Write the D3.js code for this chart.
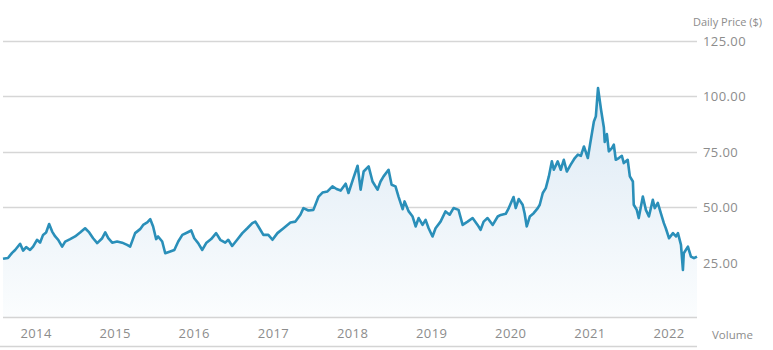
<!DOCTYPE html>
<html>
<head>
<meta charset="utf-8">
<script src="https://cdn.jsdelivr.net/npm/d3@7"></script>
<style>
  html, body { margin: 0; padding: 0; background: #fff; }
  svg { display: block; font-family: "Open Sans", "DejaVu Sans", sans-serif; }
</style>
</head>
<body>
<svg id="chart" width="773" height="350"></svg>
<script>
// Daily closing price samples (USD)
const dates = [
  "2013-08-01","2013-08-24","2013-09-12","2013-09-26","2013-10-19","2013-11-02","2013-11-16","2013-12-04","2013-12-18",
  "2014-01-05","2014-01-19","2014-02-02","2014-02-16","2014-03-02","2014-03-16","2014-03-30","2014-04-13","2014-05-01",
  "2014-05-15","2014-06-07","2014-06-30","2014-07-23","2014-08-15","2014-09-03","2014-09-21","2014-10-10","2014-11-02",
  "2014-11-16","2014-11-30","2014-12-18",
  "2015-01-10","2015-02-02","2015-02-25","2015-03-11","2015-04-03","2015-04-26","2015-05-10","2015-05-29","2015-06-12",
  "2015-06-25","2015-07-09","2015-07-18","2015-08-06","2015-08-20","2015-09-12","2015-10-01","2015-10-19","2015-11-07",
  "2015-11-30","2015-12-18",
  "2016-01-01","2016-01-19","2016-02-07","2016-02-25","2016-03-19","2016-04-11","2016-04-30","2016-05-23","2016-06-06",
  "2016-06-24","2016-07-17","2016-08-10","2016-09-02","2016-09-25","2016-10-09","2016-10-23","2016-11-15","2016-12-08",
  "2016-12-27",
  "2017-01-19","2017-02-16","2017-03-20","2017-04-12","2017-05-05","2017-05-19","2017-06-11","2017-07-04","2017-07-28",
  "2017-08-15","2017-09-07","2017-09-30","2017-10-19","2017-11-07","2017-11-30","2017-12-13",
  "2018-01-05","2018-01-24","2018-02-07","2018-02-21","2018-03-16","2018-04-03","2018-04-26","2018-05-10","2018-05-24",
  "2018-06-16","2018-06-30","2018-07-18","2018-08-01","2018-08-20","2018-08-29","2018-09-17","2018-10-05","2018-10-19",
  "2018-11-02","2018-11-20","2018-12-04","2018-12-18",
  "2019-01-05","2019-01-19","2019-02-11","2019-03-06","2019-03-25","2019-04-12","2019-05-05","2019-05-24","2019-06-16",
  "2019-07-09","2019-08-01","2019-08-15","2019-08-29","2019-09-16","2019-10-10","2019-11-02","2019-11-16","2019-12-09",
  "2019-12-23",
  "2020-01-14","2020-01-24","2020-02-07","2020-02-25","2020-03-05","2020-03-15","2020-03-29","2020-04-16","2020-05-05",
  "2020-05-14","2020-05-28","2020-06-11","2020-06-25","2020-07-09","2020-07-18","2020-08-05","2020-08-19","2020-09-02",
  "2020-09-16","2020-10-04","2020-10-23","2020-11-06","2020-11-20","2020-12-04","2020-12-22",
  "2021-01-01","2021-01-19","2021-01-28","2021-02-07","2021-02-21","2021-03-06","2021-03-10","2021-03-20","2021-03-29",
  "2021-04-12","2021-04-21","2021-04-30","2021-05-14","2021-05-28","2021-06-06","2021-06-24","2021-07-04","2021-07-18",
  "2021-07-22","2021-08-05","2021-08-14","2021-09-02","2021-09-16","2021-09-30","2021-10-18","2021-10-27","2021-11-10",
  "2021-11-24","2021-12-08","2021-12-17",
  "2022-01-01","2022-01-19","2022-02-02","2022-02-11","2022-02-25","2022-03-06","2022-03-10","2022-03-29","2022-04-12",
  "2022-04-26","2022-05-10"
];
const prices = [
  26.7,27.1,29.4,30.7,33.5,30.4,32.0,30.7,32.2,
  35.3,34.0,37.5,38.6,42.4,39.0,36.8,35.3,32.2,
  34.5,35.6,36.8,38.6,40.5,38.6,36.0,33.8,36.0,
  38.6,36.0,34.0,
  34.5,34.0,33.0,32.2,38.3,40.1,42.0,43.1,44.6,
  41.3,35.6,36.8,34.5,29.2,30.0,30.7,34.5,37.5,
  38.6,39.5,
  36.0,33.8,30.7,33.8,35.6,38.3,35.3,34.0,35.3,
  32.5,35.3,38.3,40.5,42.8,43.5,41.3,37.5,37.5,
  35.3,
  38.3,40.5,43.1,43.5,46.6,49.6,48.5,48.8,54.8,
  56.6,57.1,59.4,58.2,57.5,60.6,56.4,
  63.2,68.7,57.9,66.1,68.4,61.6,57.9,61.6,63.9,
  66.9,60.1,59.4,54.8,49.1,52.6,48.1,45.8,41.3,
  45.1,42.0,44.3,40.5,
  36.8,40.5,43.5,48.1,46.6,49.6,48.8,42.0,43.5,
  45.1,42.0,39.8,43.5,45.1,42.0,45.8,46.5,47.0,
  49.6,
  54.6,49.6,53.7,51.1,47.3,41.3,45.8,47.3,49.6,
  51.1,56.4,58.6,63.9,70.7,66.9,70.7,66.9,71.4,
  66.1,69.2,72.2,73.7,73.2,77.4,72.2,
  78.2,88.7,91.0,103.8,94.0,86.0,79.5,83.0,75.2,
  76.7,78.2,71.4,72.2,73.2,69.9,71.4,63.9,61.6,
  51.1,48.8,45.1,54.8,48.8,45.8,53.3,49.6,51.9,
  47.3,42.8,40.5,
  36.0,38.3,36.8,38.3,33.0,21.7,29.2,32.2,27.7,
  27.0,27.7
];
const priceTicks = [25, 50, 75, 100, 125];
const yearTicks = ["2014","2015","2016","2017","2018","2019","2020","2021","2022"];
const priceTitle = "Daily Price ($)";
const volumeTitle = "Volume";

const parse = d3.timeParse("%Y-%m-%d");
const series = dates.map((d, i) => ({ date: parse(d), value: prices[i] }));

const svg = d3.select("#chart");
const plot = { left: 3, right: 697, top: 41, bottom: 318 };

const x = d3.scaleTime()
  .domain(d3.extent(series, d => d.date))
  .range([plot.left, plot.right]);
const y = d3.scaleLinear()
  .domain([0, 125])
  .range([plot.bottom, plot.top]);

// gradient under the price line
const defs = svg.append("defs");
const grad = defs.append("linearGradient")
  .attr("id", "areaFill")
  .attr("gradientUnits", "userSpaceOnUse")
  .attr("x1", 0).attr("x2", 0)
  .attr("y1", y(104)).attr("y2", plot.bottom);
grad.append("stop").attr("offset", 0).attr("stop-color", "#dce9f4");
grad.append("stop").attr("offset", 1).attr("stop-color", "#fbfdfe");

// horizontal grid lines
svg.append("g")
  .selectAll("line")
  .data(priceTicks)
  .join("line")
  .attr("x1", plot.left).attr("x2", plot.right)
  .attr("y1", d => Math.round(y(d)) + 0.5)
  .attr("y2", d => Math.round(y(d)) + 0.5)
  .attr("stroke", "#d6d6d6")
  .attr("stroke-width", 1.3);

// area + line
svg.append("path")
  .datum(series)
  .attr("fill", "url(#areaFill)")
  .attr("d", d3.area().x(d => x(d.date)).y0(plot.bottom - 1).y1(d => y(d.value)));

svg.append("path")
  .datum(series)
  .attr("fill", "none")
  .attr("stroke", "#2a8fb9")
  .attr("stroke-width", 2.6)
  .attr("stroke-linejoin", "round")
  .attr("d", d3.line().x(d => x(d.date)).y(d => y(d.value)));

// bottom border of price pane and top of volume pane
svg.append("line")
  .attr("x1", plot.left).attr("x2", plot.right)
  .attr("y1", 317.5).attr("y2", 317.5)
  .attr("stroke", "#d4d4d4").attr("stroke-width", 1.5);
svg.append("line")
  .attr("x1", 0).attr("x2", plot.right)
  .attr("y1", 346.5).attr("y2", 346.5)
  .attr("stroke", "#d4d4d4").attr("stroke-width", 1.5);

// right price axis labels
svg.append("g")
  .selectAll("text")
  .data(priceTicks)
  .join("text")
  .attr("x", 703)
  .attr("y", d => y(d) + 5)
  .attr("fill", "#8c8c8c")
  .attr("font-size", 13)
  .attr("letter-spacing", 0.4)
  .text(d => d3.format(".2f")(d));

svg.append("text")
  .attr("x", 693).attr("y", 26)
  .attr("fill", "#8c8c8c")
  .attr("font-size", 11)
  .text(priceTitle);

// year labels
svg.append("g")
  .selectAll("text")
  .data(yearTicks)
  .join("text")
  .attr("x", d => x(parse(d + "-01-01")))
  .attr("y", 338)
  .attr("text-anchor", "middle")
  .attr("fill", "#8c8c8c")
  .attr("font-size", 13)
  .attr("letter-spacing", 0.4)
  .text(d => d);

svg.append("text")
  .attr("x", 712).attr("y", 339)
  .attr("fill", "#8c8c8c")
  .attr("font-size", 11.5)
  .text(volumeTitle);
</script>
</body>
</html>
